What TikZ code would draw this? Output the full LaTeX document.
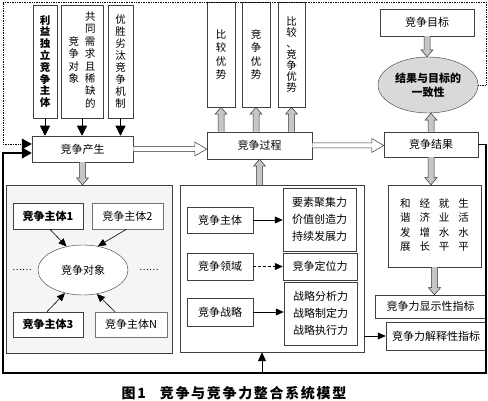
\documentclass[tikz,border=0pt]{standalone}
\usepackage{fontspec}
\setmainfont{Noto Sans CJK SC}
\usetikzlibrary{arrows.meta,shapes.geometric,calc}

\tikzset{
  box/.style={draw=black!75, line width=0.5pt, fill=white, inner sep=0pt, align=center, font=\fontsize{11}{16}\selectfont},
  vbox/.style={box, font=\fontsize{10.5}{12}\selectfont},
  hohl/.style={draw=black!80, line width=0.5pt, fill=white},
  grau/.style={draw=black!80, line width=0.5pt, fill=gray!45},
  arr/.style={black, line width=0.6pt, -{Triangle[length=8pt, width=7pt]}},
  feed/.style={-{Triangle[length=10pt, width=11pt]}}
}

% Blockpfeil: [Stil]{Start}{Ziel}{halbe Schaftbreite}{halbe Kopfbreite}{Kopflaenge}
\newcommand{\blockpfeil}[6][]{%
  \path (#2) coordinate (bpS) (#3) coordinate (bpE);
  \path ($(bpE)!#6!(bpS)$) coordinate (bpB);
  \draw[#1] ($(bpS)!#4!90:(bpE)$) -- ($(bpB)!#4!-90:(bpS)$) -- ($(bpB)!#5!-90:(bpS)$)
    -- (bpE) -- ($(bpB)!#5!90:(bpS)$) -- ($(bpB)!#4!90:(bpS)$) -- ($(bpS)!#4!-90:(bpE)$);
}

\begin{document}
\begin{tikzpicture}[x=1pt, y=-1pt]
  \useasboundingbox (0,0) rectangle (488,401);
  \fill[white] (0,0) rectangle (488,401);

  % 竞争产生的三个条件
  \node[vbox, font=\fontsize{10.5}{11.8}\selectfont\bfseries, minimum width=24pt, minimum height=113pt] (zhuti) at (45,61.5) {利\\益\\独\\立\\竞\\争\\主\\体};
  \node[vbox, minimum width=42pt, minimum height=113pt] (duixiang) at (82,61.5) {\begin{tabular}{@{}c@{\hspace{6pt}}c@{}} &共\\ &同\\ 竞&需\\ 争&求\\ 对&且\\ 象&稀\\ &缺\\ &的\end{tabular}};
  \node[vbox, minimum width=25pt, minimum height=113pt] (jizhi) at (120.5,61.5) {优\\胜\\劣\\汰\\竞\\争\\机\\制};
  \node[box, minimum width=101pt, minimum height=26pt] (chansheng) at (82.5,149) {竞争产生};

  % 竞争过程与竞争优势
  \node[box, minimum width=105pt, minimum height=27pt] (guocheng) at (259.5,145.5) {竞争过程};
  \node[vbox, font=\fontsize{10.5}{13.5}\selectfont, minimum width=28pt, minimum height=105pt] (bijiao) at (221,54.5) {比\\较\\优\\势};
  \node[vbox, font=\fontsize{10.5}{13.5}\selectfont, minimum width=28pt, minimum height=105pt] (jingzheng) at (256,54.5) {竞\\争\\优\\势};
  \node[vbox, font=\fontsize{10.5}{11}\selectfont, minimum width=27pt, minimum height=105pt] (liangzhe) at (291.5,54.5) {比\\较\\、\\竞\\争\\优\\势};

  % 竞争目标与竞争结果
  \node[box, minimum width=94pt, minimum height=27pt] (mubiao) at (427,22.5) {竞争目标};
  \node[ellipse, draw=black!80, fill=gray!30, minimum width=100pt, minimum height=56pt, inner sep=0pt, align=center, font=\fontsize{11}{14}\selectfont\bfseries] (yizhi) at (428,85) {结果与目标的\\一致性};
  \node[box, minimum width=94pt, minimum height=25pt] (jieguo) at (431,144.5) {竞争结果};

  % 左框：竞争主体与竞争对象
  \node[draw=black!75, fill=gray!8, minimum width=166pt, minimum height=168pt] (zuokuang) at (89,269) {};
  \node[box, font=\fontsize{11}{13}\selectfont\bfseries, line width=0.7pt, minimum width=70pt, minimum height=26pt] (zt1) at (48,216) {竞争主体1};
  \node[box, draw=black!55, minimum width=71pt, minimum height=26pt] (zt2) at (127.5,216) {竞争主体2};
  \node[ellipse, draw=black!80, fill=white, minimum width=90pt, minimum height=50pt, inner sep=0pt, font=\fontsize{11}{13}\selectfont] (duixiang2) at (83,270) {竞争对象};
  \node[font=\fontsize{9}{10}\selectfont] (dianzuo) at (22,270) {……};
  \node[font=\fontsize{9}{10}\selectfont] (dianyou) at (149,270) {……};
  \node[box, font=\fontsize{11}{13}\selectfont\bfseries, line width=0.7pt, minimum width=70pt, minimum height=25pt] (zt3) at (48,324.5) {竞争主体3};
  \node[box, draw=black!55, minimum width=72pt, minimum height=25pt] (ztN) at (131,324.5) {竞争主体N};

  % 中框：主体、领域、战略与竞争力
  \node[draw=black!75, fill=white, minimum width=184pt, minimum height=167pt] (zhongkuang) at (272,268.5) {};
  \node[box, minimum width=66pt, minimum height=26pt] (m1) at (220,220) {竞争主体};
  \node[box, minimum width=66pt, minimum height=27pt] (m2) at (220,266.5) {竞争领域};
  \node[box, minimum width=66pt, minimum height=28pt] (m3) at (220,312) {竞争战略};
  \node[box, font=\fontsize{11}{17}\selectfont, minimum width=73pt, minimum height=63pt] (r1) at (319.5,219.5) {要素聚集力\\价值创造力\\持续发展力};
  \node[box, minimum width=74pt, minimum height=27pt] (r2) at (320,266.5) {竞争定位力};
  \node[box, font=\fontsize{11}{17}\selectfont, minimum width=73pt, minimum height=63pt] (r3) at (320.5,313.5) {战略分析力\\战略制定力\\战略执行力};

  % 右侧：竞争力指标
  \node[box, font=\fontsize{10.5}{14.5}\selectfont, minimum width=93pt, minimum height=82pt] (hexie) at (434.5,226) {\begin{tabular}{@{}c@{\hspace{9pt}}c@{\hspace{9pt}}c@{\hspace{9pt}}c@{}} 和&经&就&生\\ 谐&济&业&活\\ 发&增&水&水\\ 展&长&平&平\end{tabular}};
  \node[box, minimum width=111pt, minimum height=23pt] (xianshi) at (430.5,306.5) {竞争力显示性指标};
  \node[box, minimum width=100pt, minimum height=28pt] (jieshi) at (436,336) {竞争力解释性指标};

  % 图题
  \node[font=\fontsize{14}{16}\selectfont\bfseries\addfontfeatures{LetterSpace=12}] (tuming) at (234,393) {图1\quad 竞争与竞争力整合系统模型};

  % 连接箭头
  \foreach \n in {zhuti,duixiang,jizhi}
    \draw[black, line width=0.6pt, -{Triangle[length=10pt, width=10pt]}] (\n.south) -- (\n.south |- chansheng.north);
  \blockpfeil[hohl]{chansheng.east}{chansheng.east -| guocheng.west}{2.5pt}{7pt}{12pt}
  \blockpfeil[hohl]{guocheng.east}{guocheng.east -| jieguo.west}{2.5pt}{7pt}{12pt}
  \blockpfeil[grau]{chansheng.south}{chansheng.south |- zuokuang.north}{3pt}{6pt}{7pt}
  \blockpfeil[grau]{guocheng.south |- zhongkuang.north}{guocheng.south}{3pt}{6pt}{7pt}
  \foreach \n in {bijiao,jingzheng,liangzhe}{
    \blockpfeil[grau]{\n.south |- guocheng.north}{\n.south}{3pt}{6pt}{7pt}
  }
  \blockpfeil[grau]{mubiao.south}{mubiao.south |- yizhi.north}{3pt}{6pt}{7pt}
  \blockpfeil[grau]{jieguo.north}{jieguo.north |- yizhi.south}{3pt}{6pt}{7pt}
  \blockpfeil[grau]{jieguo.south}{jieguo.south |- hexie.north}{3pt}{6pt}{7pt}
  \blockpfeil[grau]{hexie.south}{hexie.south |- xianshi.north}{3pt}{6pt}{7pt}

  % 主体指向对象
  \draw[arr] ([xshift=2pt]zt1.south) -- (duixiang2.125);
  \draw[arr] ([xshift=-1pt]zt2.south) -- (duixiang2.58);
  \draw[arr] ([xshift=-1pt]zt3.north) -- (duixiang2.232);
  \draw[arr] ([xshift=-16pt]ztN.north) -- (duixiang2.300);

  \draw[arr] (m1.east) -- (m1.east -| r1.west);
  \draw[arr, densely dashed] (m2.east) -- (r2.west);
  \draw[arr] (m3.east) -- (m3.east -| r3.west);
  \draw[arr] (zhongkuang.east |- jieshi.west) -- (jieshi.west);

  % 反馈线
  \coordinate (youshang) at (486,2);
  \coordinate (zuoshang) at (3,2);
  \coordinate (youxia) at (486,373);
  \coordinate (zuoxia) at (3,373);
  \coordinate (dizhong) at (262,373);
  \draw[densely dotted, line width=0.7pt, feed] (yizhi.east) -| (youshang) -- (zuoshang) |- ([yshift=5pt]chansheng.west);
  \draw[line width=1.6pt, feed] (jieguo.east) -| (youxia) -- (zuoxia) |- ([yshift=-4pt]chansheng.west);
  \draw[line width=1pt, -{Triangle[length=9pt, width=8pt]}] (dizhong) -- (dizhong |- zhongkuang.south);
\end{tikzpicture}
\end{document}
